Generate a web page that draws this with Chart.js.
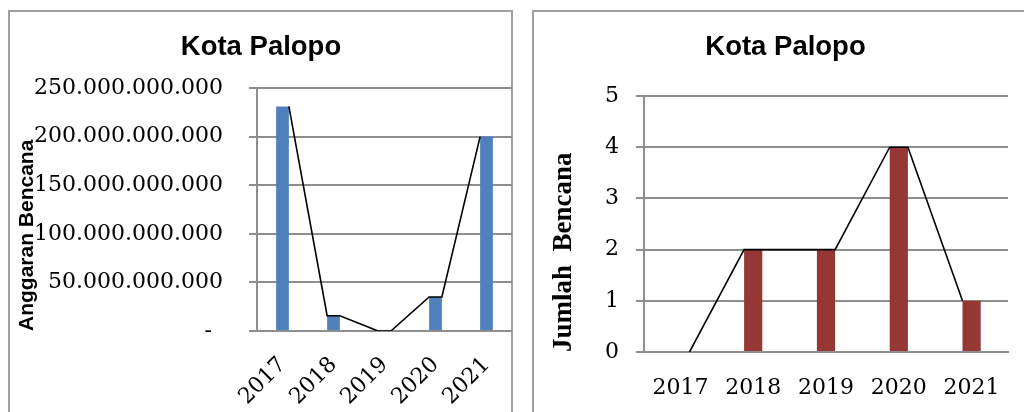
<!DOCTYPE html>
<html>
<head>
<meta charset="utf-8">
<script src="https://cdn.jsdelivr.net/npm/chart.js@4.4.1/dist/chart.umd.min.js"></script>
<style>
  html, body { margin: 0; padding: 0; background: #fff; overflow: hidden; width: 1024px; height: 412px; }
  .box { position: absolute; border: 2px solid #a0a0a0; box-sizing: border-box; }
  #boxA { left: 8px; top: 10px; width: 505px; height: 440px; }
  #boxB { left: 532px; top: 10px; width: 520px; height: 440px; }
  canvas { position: absolute; }
  #cA { left: 10px; top: 12px; }
  #cB { left: 535px; top: 12px; }
</style>
</head>
<body>
<div class="box" id="boxA"></div>
<div class="box" id="boxB"></div>
<canvas id="cA" width="502" height="400"></canvas>
<canvas id="cB" width="501" height="400"></canvas>
<script>
// Tahun pengamatan
const years = ['2017', '2018', '2019', '2020', '2021'];
// Anggaran bencana (Rp)
const anggaran = [231000000000, 15700000000, 0, 35000000000, 200000000000];
// Jumlah kejadian bencana
const jumlah = [0, 2, 2, 4, 1];

const chartTitle = 'Kota Palopo';
const anggaranAxisTitle = 'Anggaran Bencana';
const jumlahAxisTitle = 'Jumlah  Bencana';

const BAR_FRACTION = 0.25;
const GRID = '#8e8e8e';

// Thousands separated with dots; zero shown as a dash
function rupiah(v) {
  if (v === 0) return '-\u2002';
  return String(Math.round(v)).replace(/\B(?=(\d{3})+(?!\d))/g, '.');
}

// Polyline running from each bar's top-right corner to the next bar's top-left corner
function outline(values) {
  const half = BAR_FRACTION / 2;
  const pts = [];
  values.forEach((v, i) => {
    if (i > 0) pts.push({ x: i - half, y: v });
    if (i < values.length - 1) pts.push({ x: i + half, y: v });
  });
  return pts;
}

function build(canvas, cfg) {
  return new Chart(canvas, {
    type: 'bar',
    data: {
      datasets: [
        {
          type: 'line',
          data: outline(cfg.values),
          borderColor: '#000',
          borderWidth: 1.6,
          pointRadius: 0,
          tension: 0,
          fill: false,
          order: 0
        },
        {
          type: 'bar',
          data: cfg.values.map((v, i) => ({ x: i, y: v })),
          backgroundColor: cfg.color,
          borderWidth: 0,
          barPercentage: BAR_FRACTION,
          categoryPercentage: 1.0,
          order: 1
        }
      ]
    },
    options: {
      responsive: false,
      animation: false,
      devicePixelRatio: 1,
      layout: { padding: 0 },
      plugins: {
        legend: { display: false },
        tooltip: { enabled: false },
        title: {
          display: true,
          text: chartTitle,
          color: '#000',
          font: { family: 'Liberation Sans', weight: 'bold', size: 27.5 },
          padding: { top: 19, bottom: cfg.titleBottom }
        }
      },
      scales: {
        x: {
          type: 'linear',
          min: -0.5,
          max: years.length - 0.5,
          offset: false,
          afterBuildTicks: s => { s.ticks = years.map((_, i) => ({ value: i })); },
          ticks: {
            autoSkip: false,
            minRotation: cfg.rotation,
            maxRotation: cfg.rotation,
            padding: cfg.xPad,
            color: '#000',
            font: { family: 'DejaVu Serif', size: 22 },
            callback: v => years[v]
          },
          grid: { display: false, drawTicks: false, tickLength: 0, offset: false },
          border: { display: true, color: GRID, width: 2 },
          afterFit: s => {
            s.height = cfg.xHeight;
            s.paddingLeft = 0;
            s.paddingRight = cfg.padRight;
          }
        },
        y: {
          min: 0,
          max: cfg.max,
          ticks: {
            stepSize: cfg.step,
            padding: cfg.yPad,
            color: '#000',
            font: { family: 'DejaVu Serif', size: 22 },
            callback: cfg.tickFmt
          },
          grid: { color: GRID, lineWidth: 2, tickLength: 8, drawTicks: true },
          border: { display: true, color: GRID, width: 2 },
          title: {
            display: true,
            text: cfg.axisTitle,
            align: 'start',
            color: '#000',
            font: cfg.axisFont,
            padding: { top: cfg.axisTitlePad, bottom: 0 }
          },
          afterFit: s => { s.width = cfg.yWidth; }
        }
      }
    }
  });
}

build(document.getElementById('cA'), {
  values: anggaran,
  color: '#4f81bd',
  max: 250000000000,
  step: 50000000000,
  tickFmt: v => rupiah(v),
  axisTitle: anggaranAxisTitle,
  axisFont: { family: 'Liberation Sans', weight: 'bold', size: 21 },
  axisTitlePad: 5,
  yWidth: 247,
  yPad: 26,
  xHeight: 81,
  xPad: 21,
  rotation: 45,
  padRight: 0,
  titleBottom: 24
});

build(document.getElementById('cB'), {
  values: jumlah,
  color: '#953735',
  max: 5,
  step: 1,
  tickFmt: v => String(v),
  axisTitle: jumlahAxisTitle,
  axisFont: { family: 'Liberation Serif', weight: 'bold', size: 27 },
  axisTitlePad: 13,
  yWidth: 109,
  yPad: 17,
  xHeight: 60,
  xPad: 23,
  rotation: 0,
  padRight: 28,
  titleBottom: 32
});
</script>
</body>
</html>
